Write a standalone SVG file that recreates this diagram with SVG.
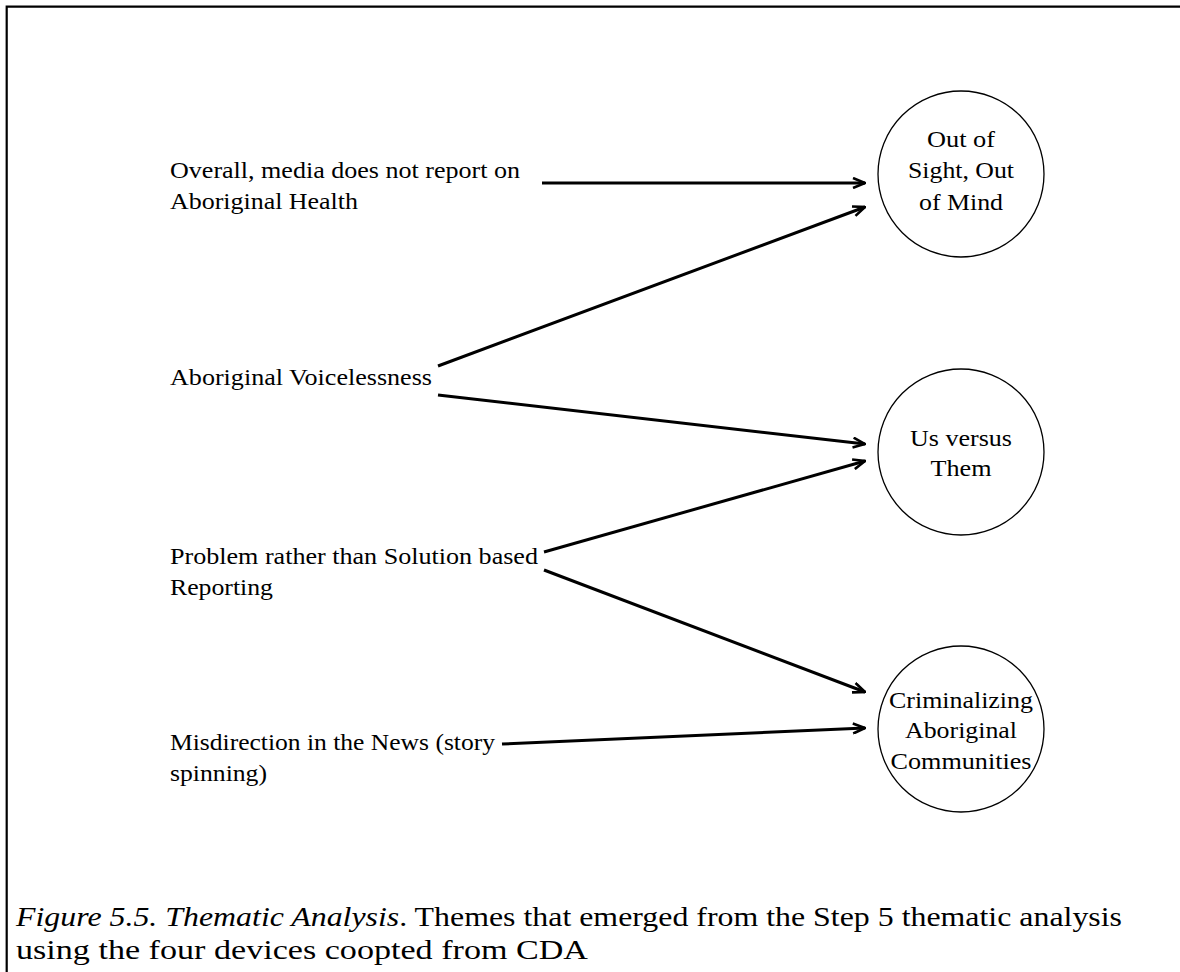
<svg xmlns="http://www.w3.org/2000/svg" width="1180" height="972" viewBox="0 0 1180 972" font-family="'Liberation Serif', 'Times New Roman', Times, serif">
<style>
text{font-family:'Liberation Serif','Times New Roman',Times,serif;fill:#000;}
.t{font-size:24px;}
.c{font-size:24px;text-anchor:middle;}
.cap{font-size:28px;}
.node{fill:#fff;stroke:#000;stroke-width:1.3;}
.edge{stroke:#000;stroke-width:3;fill:none;marker-end:url(#ah);}
</style>
<defs>
<marker id="ah" viewBox="0 0 14 12" refX="13" refY="6" markerWidth="14" markerHeight="12" markerUnits="userSpaceOnUse" orient="auto">
<path d="M1,1 L13,6 L1,11" fill="none" stroke="#000" stroke-width="2.6" stroke-linejoin="miter"/>
</marker>
</defs>
<rect width="1180" height="972" fill="#fff"/>
<path d="M6.7,972 V6.7 H1180" fill="none" stroke="#000" stroke-width="2.2"/>

<g id="connectors">
<line class="edge" x1="542" y1="183" x2="865" y2="183"/>
<line class="edge" x1="438" y1="366" x2="865" y2="207"/>
<line class="edge" x1="438" y1="395" x2="865" y2="444"/>
<line class="edge" x1="544" y1="552" x2="865" y2="461"/>
<line class="edge" x1="544" y1="570" x2="865" y2="692"/>
<line class="edge" x1="502" y1="744" x2="865" y2="728"/>
</g>

<g id="src-overall">
<text class="t" x="170" y="178" textLength="350" lengthAdjust="spacingAndGlyphs">Overall, media does not report on</text>
<text class="t" x="170" y="209" textLength="188" lengthAdjust="spacingAndGlyphs">Aboriginal Health</text>
</g>
<g id="src-voiceless">
<text class="t" x="170" y="385" textLength="262" lengthAdjust="spacingAndGlyphs">Aboriginal Voicelessness</text>
</g>
<g id="src-problem">
<text class="t" x="170" y="564" textLength="368" lengthAdjust="spacingAndGlyphs">Problem rather than Solution based</text>
<text class="t" x="170" y="595" textLength="103" lengthAdjust="spacingAndGlyphs">Reporting</text>
</g>
<g id="src-misdirection">
<text class="t" x="170" y="750" textLength="325" lengthAdjust="spacingAndGlyphs">Misdirection in the News (story</text>
<text class="t" x="170" y="781" textLength="97" lengthAdjust="spacingAndGlyphs">spinning)</text>
</g>

<g id="theme-outofsight">
<circle class="node" cx="961" cy="174" r="83"/>
<text class="c" x="961" y="147" textLength="68" lengthAdjust="spacingAndGlyphs">Out of</text>
<text class="c" x="961" y="178" textLength="106" lengthAdjust="spacingAndGlyphs">Sight, Out</text>
<text class="c" x="961" y="210" textLength="84" lengthAdjust="spacingAndGlyphs">of Mind</text>
</g>
<g id="theme-usthem">
<circle class="node" cx="961" cy="452" r="83"/>
<text class="c" x="961" y="446" textLength="102" lengthAdjust="spacingAndGlyphs">Us versus</text>
<text class="c" x="961" y="476" textLength="61" lengthAdjust="spacingAndGlyphs">Them</text>
</g>
<g id="theme-criminalizing">
<circle class="node" cx="961" cy="729" r="83"/>
<text class="c" x="961" y="708" textLength="144" lengthAdjust="spacingAndGlyphs">Criminalizing</text>
<text class="c" x="961" y="738" textLength="112" lengthAdjust="spacingAndGlyphs">Aboriginal</text>
<text class="c" x="961" y="769" textLength="141" lengthAdjust="spacingAndGlyphs">Communities</text>
</g>

<g id="caption">
<text class="cap" x="16" y="926" textLength="1106" lengthAdjust="spacingAndGlyphs"><tspan font-style="italic">Figure 5.5. Thematic Analysis</tspan>. Themes that emerged from the Step 5 thematic analysis</text>
<text class="cap" x="16" y="959" textLength="572" lengthAdjust="spacingAndGlyphs">using the four devices coopted from CDA</text>
</g>
</svg>
